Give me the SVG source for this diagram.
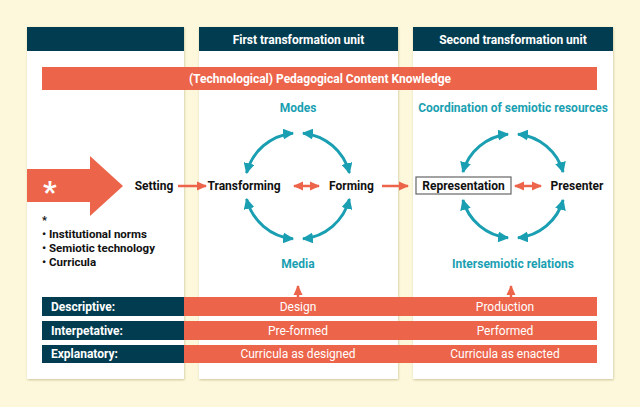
<svg xmlns="http://www.w3.org/2000/svg" width="640" height="407" viewBox="0 0 640 407">
<defs>
<style>
.t{font-family:Roboto,"Liberation Sans",Arial,sans-serif;}
.b{font-weight:bold;}
.hdr{fill:#ffffff;font-size:12px;font-weight:bold;text-anchor:middle;}
.lbl{fill:#111111;font-size:12px;font-weight:bold;text-anchor:middle;}
.teal{fill:#1a9fb2;font-size:12px;font-weight:bold;text-anchor:middle;}
.row{fill:#ffffff;font-size:12px;text-anchor:middle;}
.rowl{fill:#ffffff;font-size:12px;font-weight:bold;}
.arc{fill:none;stroke:#1a9fb2;stroke-width:3;}
.oa{fill:none;stroke:#ec644a;stroke-width:2.5;}
.panel{fill:#ffffff;filter:url(#sh);}
</style>
<filter id="sh" x="-10%" y="-10%" width="120%" height="120%">
<feDropShadow dx="0.5" dy="1" stdDeviation="1.2" flood-color="#b8ad7a" flood-opacity="0.7"/>
</filter>
<marker id="tm" viewBox="0 0 10 10" refX="9" refY="5" markerWidth="11" markerHeight="11" markerUnits="userSpaceOnUse" orient="auto-start-reverse">
<path d="M0,0 L10,5 L0,10 z" fill="#1a9fb2"/>
</marker>
<marker id="om" viewBox="0 0 10 10" refX="9" refY="5" markerWidth="10" markerHeight="10" markerUnits="userSpaceOnUse" orient="auto-start-reverse">
<path d="M0,0.5 L10,5 L0,9.5 z" fill="#ec644a"/>
</marker>
</defs>
<rect x="0" y="0" width="640" height="407" fill="#fdf8dc"/>

<g id="panel1">
<rect class="panel" x="27" y="27" width="157" height="352"/>
<rect x="27" y="27" width="157" height="24" fill="#013c50"/>
</g>
<g id="panel2">
<rect class="panel" x="199" y="27" width="199" height="352"/>
<rect x="199" y="27" width="199" height="24" fill="#013c50"/>
<text class="t hdr" x="298.5" y="43.5">First transformation unit</text>
</g>
<g id="panel3">
<rect class="panel" x="413" y="27" width="200" height="352"/>
<rect x="413" y="27" width="200" height="24" fill="#013c50"/>
<text class="t hdr" x="513" y="43.5">Second transformation unit</text>
</g>

<g id="pck">
<rect x="42" y="67" width="555" height="23" fill="#ec644a"/>
<text class="t hdr" x="320" y="82.5">(Technological) Pedagogical Content Knowledge</text>
</g>

<g id="bigarrow">
<path d="M27,169 L90,169 L90,156 L123,186 L90,216 L90,202 L27,202 z" fill="#ec644a"/>
<text class="t b" x="43" y="202" fill="#ffffff" font-size="30">*</text>
</g>

<g id="settings-list">
<text class="t b" x="42" y="224" font-size="11" fill="#111">*</text>
<text class="t b" x="42" y="238" font-size="11.5" fill="#111">• Institutional norms</text>
<text class="t b" x="42" y="252" font-size="11.5" fill="#111">• Semiotic technology</text>
<text class="t b" x="42" y="266" font-size="11.5" fill="#111">• Curricula</text>
</g>

<g id="setting"><text class="t lbl" x="154" y="190">Setting</text></g>
<g id="transforming"><text class="t lbl" x="244" y="190">Transforming</text></g>
<g id="forming"><text class="t lbl" x="351.5" y="190">Forming</text></g>
<g id="representation">
<rect x="416" y="177" width="95" height="17" fill="#ffffff" stroke="#666666" stroke-width="1.2"/>
<text class="t lbl" x="463.5" y="190">Representation</text>
</g>
<g id="presenter"><text class="t lbl" x="577" y="190">Presenter</text></g>

<g id="modes"><text class="t teal" x="298" y="112">Modes</text></g>
<g id="media"><text class="t teal" x="298" y="268">Media</text></g>
<g id="coord"><text class="t teal" x="513" y="112">Coordination of semiotic resources</text></g>
<g id="intersem"><text class="t teal" x="513" y="268">Intersemiotic relations</text></g>

<g id="connectors">
<path class="arc" d="M293,133.2 A53,53 0 0 0 246.6,173" marker-start="url(#tm)" marker-end="url(#tm)"/>
<path class="arc" d="M303,133.2 A53,53 0 0 1 349.4,173" marker-start="url(#tm)" marker-end="url(#tm)"/>
<path class="arc" d="M246.6,199 A53,53 0 0 0 293,238.8" marker-start="url(#tm)" marker-end="url(#tm)"/>
<path class="arc" d="M349.4,199 A53,53 0 0 1 303,238.8" marker-start="url(#tm)" marker-end="url(#tm)"/>
<path class="arc" d="M508,134.2 A52,52 0 0 0 462.9,172" marker-start="url(#tm)" marker-end="url(#tm)"/>
<path class="arc" d="M518,134.2 A52,52 0 0 1 563.1,172" marker-start="url(#tm)" marker-end="url(#tm)"/>
<path class="arc" d="M462.9,200 A52,52 0 0 0 508,237.8" marker-start="url(#tm)" marker-end="url(#tm)"/>
<path class="arc" d="M563.1,200 A52,52 0 0 1 518,237.8" marker-start="url(#tm)" marker-end="url(#tm)"/>
<path class="oa" d="M178,186 L206,186" marker-end="url(#om)"/>
<path class="oa" d="M294,186 L319,186" marker-start="url(#om)" marker-end="url(#om)"/>
<path class="oa" d="M382,186 L408,186" marker-end="url(#om)"/>
<path class="oa" d="M515,186 L541,186" marker-start="url(#om)" marker-end="url(#om)"/>
<path class="oa" d="M298,297 L298,286" marker-end="url(#om)"/>
<path class="oa" d="M511,297 L511,286" marker-end="url(#om)"/>
</g>

<g id="row-descriptive">
<rect x="42" y="297" width="142" height="19" fill="#013c50"/>
<rect x="184" y="297" width="413" height="19" fill="#ec644a"/>
<text class="t rowl" x="51" y="310.5">Descriptive:</text>
<text class="t row" x="298" y="310.5">Design</text>
<text class="t row" x="505" y="310.5">Production</text>
</g>
<g id="row-interpretative">
<rect x="42" y="321" width="142" height="19" fill="#013c50"/>
<rect x="184" y="321" width="413" height="19" fill="#ec644a"/>
<text class="t rowl" x="51" y="334.5">Interpetative:</text>
<text class="t row" x="298" y="334.5">Pre-formed</text>
<text class="t row" x="505" y="334.5">Performed</text>
</g>
<g id="row-explanatory">
<rect x="42" y="345" width="142" height="18" fill="#013c50"/>
<rect x="184" y="345" width="413" height="18" fill="#ec644a"/>
<text class="t rowl" x="51" y="358">Explanatory:</text>
<text class="t row" x="298" y="358">Curricula as designed</text>
<text class="t row" x="505" y="358">Curricula as enacted</text>
</g>
</svg>
